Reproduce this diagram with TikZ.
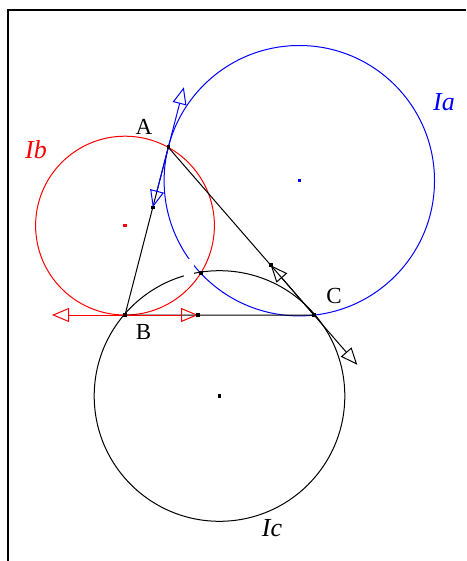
\documentclass[tikz,border=0pt]{standalone}
\usepackage{fontspec}
\setmainfont{Liberation Serif}
\usetikzlibrary{arrows.meta,calc}

\tikzset{
  tri/.tip={Triangle[open,length=8.5pt,width=7pt]},
  vec/.style={tri-tri, line width=0.5pt},
  dot/.style={rectangle, fill, inner sep=0pt, minimum size=1.8pt},
  lbl/.style={inner sep=0pt, font=\fontsize{11.5}{13}\selectfont},
  ilbl/.style={inner sep=0pt, font=\fontsize{13}{15}\selectfont\itshape}
}

\begin{document}
\begin{tikzpicture}[x=0.5pt, y=-0.5pt, line width=0.5pt]
  \useasboundingbox (0,0) rectangle (466,561);
  \draw[line width=1pt] (8,561) -- (8,10) -- (466,10);

  % triangle and centres
  \coordinate (A) at (168.3,147.3);
  \coordinate (B) at (125,315);
  \coordinate (C) at (314,315);
  \coordinate (W) at (200.7,272.7);
  \coordinate (Ia) at (299.3,180.7);
  \coordinate (Ib) at (125,225.6);
  \coordinate (Ic) at (219.5,396);

  % circles
  \draw[blue] (Ia) circle[radius=135.2];
  \draw[red]  (Ib) circle[radius=89.4];
  \draw       (Ic) circle[radius=125.3];
  \fill[white] (184,259) rectangle (194,279);

  % sides
  \draw (A) -- (B) -- (C) -- cycle;

  % tangent vectors
  \coordinate (a1) at ($(A)!-31pt!(B)$);
  \coordinate (a2) at ($(A)!31pt!(B)$);
  \coordinate (b1) at ($(B)!-36.5pt!(C)$);
  \coordinate (b2) at ($(B)!36.5pt!(C)$);
  \coordinate (c1) at ($(C)!33pt!(A)$);
  \coordinate (c2) at ($(C)!-33pt!(A)$);
  \draw[vec, blue] (a2) -- (a1);
  \draw[vec, red]  (b1) -- (b2);
  \draw[vec]       (c1) -- (c2);

  % points
  \node[dot, blue] at (Ia) {};
  \node[dot, red]  at (Ib) {};
  \node[dot]       at (Ic) {};
  \node[dot]       at (W) {};
  \node[dot]       at (A) {};
  \node[dot]       at (B) {};
  \node[dot]       at (C) {};
  \node[dot]       at (a2) {};
  \node[dot]       at (b2) {};
  \node[dot]       at (c1) {};

  % labels
  \node[lbl] (lA) at (144,127) {A};
  \node[lbl] (lB) at (143.5,332) {B};
  \node[lbl] (lC) at (334,295.5) {C};
  \node[ilbl, blue] (lIa) at (444,102) {Ia};
  \node[ilbl, red]  (lIb) at (36,150) {Ib};
  \node[ilbl]       (lIc) at (272,528) {Ic};
\end{tikzpicture}
\end{document}
